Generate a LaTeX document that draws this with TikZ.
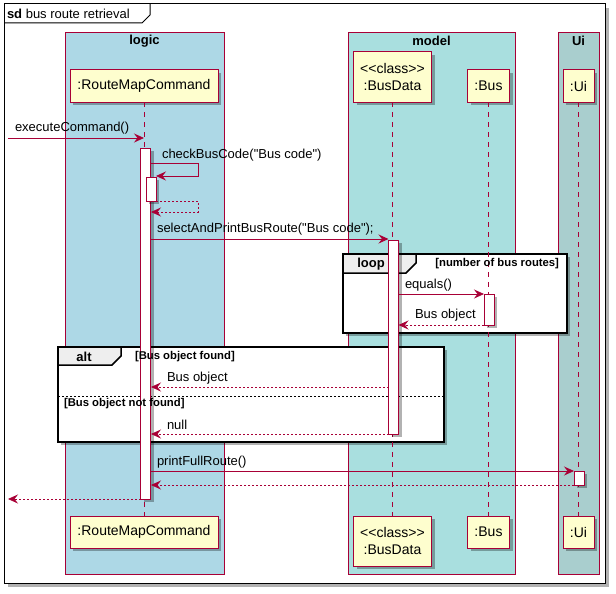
\documentclass[tikz,border=0pt]{standalone}
\usepackage{fontspec}
\setmainfont{Liberation Sans}[Ligatures=TeXOff]
\usetikzlibrary{arrows.meta,shadows}
\definecolor{pu}{HTML}{A80036}
\definecolor{partfill}{HTML}{FEFECE}
\definecolor{logicbg}{HTML}{ADD8E6}
\definecolor{modelbg}{HTML}{A9DFDF}
\definecolor{uibg}{HTML}{A9CECE}
\definecolor{tabfill}{HTML}{EEEEEE}
\begin{document}
\begin{tikzpicture}[x=1pt,y=-1pt,
  every node/.style={inner sep=0pt, outer sep=0pt},
  shad/.style={drop shadow={shadow xshift=3pt,shadow yshift=-3pt,fill=black,opacity=0.3}},
  msg/.style={draw=pu, line width=0.8pt, -{Stealth[length=10pt,width=9pt,inset=3.5pt]}},
  ret/.style={msg, dash pattern=on 2pt off 2pt},
  lbl/.style={anchor=west, font=\fontsize{13}{15}\selectfont},
  part/.style={draw=pu, fill=partfill, line width=1pt, font=\fontsize{14}{17}\selectfont, align=center, shad},
  act/.style={draw=pu, fill=white, line width=0.8pt, minimum width=10pt, anchor=north, shad},
  grp/.style={draw=pu, line width=0.8pt},
  grptitle/.style={font=\bfseries\fontsize{13}{15}\selectfont},
  lifeline/.style={draw=pu, line width=0.8pt, dash pattern=on 5pt off 5pt},
  frm/.style={draw=black, line width=1.5pt},
  guard/.style={font=\bfseries\fontsize{11.3}{13}\selectfont},
  tabtxt/.style={font=\bfseries\fontsize{13}{15}\selectfont}
]
\useasboundingbox (0,0) rectangle (616,594);
% outer frame
\fill[black,opacity=0.3] (8,8) rectangle (609,587);
\draw[fill=white, line width=1pt] (4,4) rectangle (605,583);
\draw[line width=1pt] (4,23) -- (142,23) -- (150,15) -- (150,4);
\node[anchor=west, font=\fontsize{13}{15}\selectfont] (sdlbl) at (7,13.5) {\textbf{sd} bus route retrieval};
% groups
\draw[grp, fill=logicbg] (65,32) rectangle (224,574);
\draw[grp, fill=modelbg] (348,32) rectangle (515,574);
\draw[grp, fill=uibg] (558,32) rectangle (599,574);
\node[grptitle] (logicT) at (144.5,41) {logic};
\node[grptitle] (modelT) at (431.5,41) {model};
\node[grptitle] (uiT) at (578.5,41) {Ui};
% frames
\draw[frm, fill=white, shad] (343,254) rectangle (567,333);
\draw[frm, fill=tabfill] (343,254) -- (416,254) -- (416,263) -- (406,273) -- (343,273) -- cycle;
\node[tabtxt] (loopT) at (371,264) {loop};
\draw[frm, fill=white, shad] (58,347) rectangle (444,442);
\draw[frm, fill=tabfill] (58,347) -- (121,347) -- (121,356) -- (112,365) -- (58,365) -- cycle;
\node[tabtxt] (altT) at (84,356.5) {alt};
\draw[line width=0.8pt, dash pattern=on 2pt off 2pt] (58,396) -- (444,396);
% participants
\node[part, minimum width=148pt, minimum height=32pt] (rmc) at (144,86) {:RouteMapCommand};
\node[part, minimum width=78pt, minimum height=50pt] (bd) at (392.5,77) {<<class>>\\:BusData};
\node[part, minimum width=42pt, minimum height=32pt] (bus) at (488.5,86) {:Bus};
\node[part, minimum width=31pt, minimum height=32pt] (ui) at (578.5,86) {:Ui};
\node[part, minimum width=148pt, minimum height=32pt] (rmcB) at (144,532) {:RouteMapCommand};
\node[part, minimum width=78pt, minimum height=50pt] (bdB) at (392.5,541) {<<class>>\\:BusData};
\node[part, minimum width=42pt, minimum height=32pt] (busB) at (488.5,532) {:Bus};
\node[part, minimum width=31pt, minimum height=32pt] (uiB) at (578.5,532) {:Ui};
% lifelines
\draw[lifeline] (rmc.south) -- (rmcB.north);
\draw[lifeline] (bd.south) -- (bdB.north);
\draw[lifeline] (bus.south) -- (busB.north);
\draw[lifeline] (ui.south) -- (uiB.north);
% activations
\node[act, minimum height=351pt] (aR) at (145.5,148) {};
\node[act, minimum height=24pt] (aR2) at (151,177) {};
\node[act, minimum height=194pt] (aB) at (393.5,240) {};
\node[act, minimum height=31pt] (aBus) at (489,294) {};
\node[act, minimum height=14pt] (aU) at (579,471) {};
% guards (above the bars)
\node[guard, anchor=east] (loopG) at (559,264) {[number of bus routes]};
\node[guard, anchor=west] (altG1) at (135,357) {[Bus object found]};
\node[guard, anchor=west] (altG2) at (64,404) {[Bus object not found]};
% coordinates
\coordinate (m1s) at (8,138);
\coordinate (m1e) at (144,138);
\coordinate (sc1) at (151,163);
\coordinate (sc2) at (198,163);
\coordinate (sc3) at (198,176);
\coordinate (sc4) at (156,176);
\coordinate (sr1) at (156,201);
\coordinate (sr2) at (198,201);
\coordinate (sr3) at (198,212);
\coordinate (sr4) at (151,212);
\coordinate (m3s) at (151,239);
\coordinate (m3e) at (388.5,239);
\coordinate (m4s) at (398.5,294);
\coordinate (m4e) at (484,294);
\coordinate (m5s) at (484,325);
\coordinate (m5e) at (398.5,325);
\coordinate (m6s) at (388.5,387);
\coordinate (m6e) at (151,387);
\coordinate (m7s) at (388.5,434);
\coordinate (m7e) at (151,434);
\coordinate (m8s) at (151,471);
\coordinate (m8e) at (574,471);
\coordinate (m9s) at (574,485);
\coordinate (m9e) at (151,485);
\coordinate (m10s) at (140.5,499);
\coordinate (m10e) at (8,499);
% messages
\draw[msg] (m1s) -- (m1e);
\node[lbl] (l1) at (15,128) {executeCommand()};
\draw[msg] (sc1) -- (sc2) -- (sc3) -- (sc4);
\node[lbl] (l2) at (162,155) {checkBusCode("Bus code")};
\draw[ret] (sr1) -- (sr2) -- (sr3) -- (sr4);
\draw[msg] (m3s) -- (m3e);
\node[lbl] (l3) at (157,229) {selectAndPrintBusRoute("Bus code");};
\draw[msg] (m4s) -- (m4e);
\node[lbl] (l4) at (405,285) {equals()};
\draw[ret] (m5s) -- (m5e);
\node[lbl] (l5) at (415,315) {Bus object};
\draw[ret] (m6s) -- (m6e);
\node[lbl] (l6) at (167,378) {Bus object};
\draw[ret] (m7s) -- (m7e);
\node[lbl] (l7) at (167,425) {null};
\draw[msg] (m8s) -- (m8e);
\node[lbl] (l8) at (157,462) {printFullRoute()};
\draw[ret] (m9s) -- (m9e);
\draw[ret] (m10s) -- (m10e);
\end{tikzpicture}
\end{document}
